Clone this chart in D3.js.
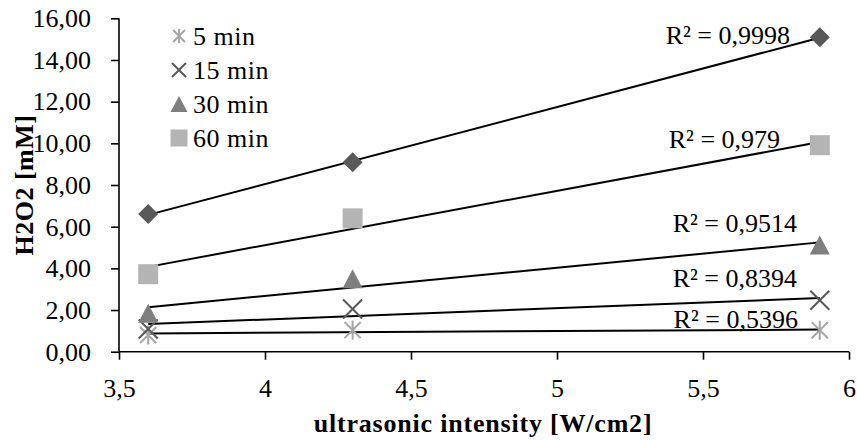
<!DOCTYPE html>
<html>
<head>
<meta charset="utf-8">
<script src="https://cdn.jsdelivr.net/npm/d3@7"></script>
<style>
body{margin:0;background:#fff}
svg text{font-family:"Liberation Serif","Times New Roman",serif}
</style>
</head>
<body>
<svg width="857" height="441"></svg>
<script>
// intensities [W/cm2]
var intensity = [3.6, 4.3, 5.9]
// H2O2 [mM] per sonication time
var series = ['5 min', '15 min', '30 min', '60 min', '120 min']
var v5 = [0.80, 1.04, 1.03]
var v15 = [1.09, 2.05, 2.47]
var v30 = [1.85, 3.50, 5.12]
var v60 = [3.72, 6.40, 9.91]
var v120 = [6.61, 9.09, 15.09]
var r2 = ['0,5396', '0,8394', '0,9514', '0,979', '0,9998']
var xTicks = [3.5, 4, 4.5, 5, 5.5, 6]
var yTicks = [0, 2, 4, 6, 8, 10, 12, 14, 16]

var allVals = [v5, v15, v30, v60, v120]
var legendItems = [0, 1, 2, 3]   // excel legend only shows these
var markers = ['asterisk', 'x', 'triangle', 'square', 'diamond']
var colors = ['#a6a6a6', '#595959', '#7f7f7f', '#b4b4b4', '#595959']
// where excel put the R² boxes (right end, baseline) in data units
var labelAt = [[5.825, 1.14], [5.822, 3.11], [5.822, 5.75], [5.764, 9.78], [5.798, 14.77]]

var loc = d3.formatLocale({decimal: ',', thousands: '.', grouping: [3], currency: ['', '']})

var svg = d3.select('svg')
var x = d3.scaleLinear().domain([3.5, 6]).range([119, 849])
var y = d3.scaleLinear().domain([0, 16]).range([351.7, 18.3])

function markerPath(kind, s) {
    if (kind == 'asterisk') return 'M' + (-s * 0.85) + ',' + (-s * 0.85) + 'L' + (s * 0.85) + ',' + (s * 0.85) +
        'M' + (-s * 0.85) + ',' + (s * 0.85) + 'L' + (s * 0.85) + ',' + (-s * 0.85) + 'M0,' + (-s) + 'V' + s
    if (kind == 'x') return 'M' + (-s) + ',' + (-s) + 'L' + s + ',' + s + 'M' + (-s) + ',' + s + 'L' + s + ',' + (-s)
    if (kind == 'triangle') return 'M0,' + (-s * 0.95) + 'L' + s + ',' + (s * 0.95) + 'L' + (-s) + ',' + (s * 0.95) + 'Z'
    if (kind == 'square') return 'M' + (-s) + ',' + (-s) + 'H' + s + 'V' + s + 'H' + (-s) + 'Z'
    if (kind == 'diamond') return 'M0,' + (-s) + 'L' + s + ',0L0,' + s + 'L' + (-s) + ',0Z'
}
function isStroke(kind) { return kind == 'asterisk' || kind == 'x' }

// axes
var xAxis = svg.append('g')
    .attr('transform', 'translate(0,' + y(0) + ')')
    .call(d3.axisBottom(x).tickValues(xTicks).tickSize(8).tickPadding(19).tickFormat(loc.format('.2~f')))
var yAxis = svg.append('g')
    .attr('transform', 'translate(' + x(3.5) + ',0)')
    .call(d3.axisLeft(y).tickValues(yTicks).tickSize(8).tickPadding(20).tickFormat(loc.format('.2f')))

svg.selectAll('.domain').attr('stroke', '#000').attr('stroke-width', 1.6)
svg.selectAll('.tick line').attr('stroke', '#000').attr('stroke-width', 1.6)
svg.selectAll('.tick text').attr('font-family', 'Liberation Serif').attr('font-size', 26).attr('fill', '#000')
// excel axis path has no end caps
xAxis.select('.domain').attr('d', 'M' + x(3.5) + ',0H' + x(6))
yAxis.select('.domain').attr('d', 'M0,' + y(16) + 'V' + y(0))

// trend lines (least squares)
allVals.forEach(function(vals, i) {
    var mx = d3.mean(intensity), my = d3.mean(vals)
    var sxy = 0, sxx = 0
    for (var k = 0; k < vals.length; k++) {
        sxy += (intensity[k] - mx) * (vals[k] - my)
        sxx += (intensity[k] - mx) * (intensity[k] - mx)
    }
    var b = sxy / sxx, a = my - b * mx
    var x0 = d3.min(intensity), x1 = d3.max(intensity)
    svg.append('line')
        .attr('x1', x(x0)).attr('y1', y(a + b * x0))
        .attr('x2', x(x1)).attr('y2', y(a + b * x1))
        .attr('stroke', '#000').attr('stroke-width', 2)
})

// markers
allVals.forEach(function(vals, i) {
    var kind = markers[i]
    var s = isStroke(kind) ? 9.5 : 10
    svg.append('g').selectAll('path')
        .data(vals)
        .enter()
        .append('path')
        .attr('transform', function(d, k) { return 'translate(' + x(intensity[k]) + ',' + y(d) + ')' })
        .attr('d', markerPath(kind, s))
        .attr('fill', isStroke(kind) ? 'none' : colors[i])
        .attr('stroke', isStroke(kind) ? colors[i] : 'none')
        .attr('stroke-width', 2)
})

// R² labels
r2.forEach(function(r, i) {
    svg.append('text')
        .attr('x', x(labelAt[i][0])).attr('y', y(labelAt[i][1]))
        .attr('text-anchor', 'end')
        .attr('font-size', 26)
        .text('R² = ' + r)
})

// legend
var leg = svg.append('g').selectAll('g')
    .data(legendItems)
    .enter()
    .append('g')
    .attr('transform', function(d, k) { return 'translate(179,' + (36 + k * 34) + ')' })
leg.append('path')
    .attr('d', function(d) { return markerPath(markers[d], isStroke(markers[d]) ? 7 : 8.5) })
    .attr('fill', function(d) { return isStroke(markers[d]) ? 'none' : colors[d] })
    .attr('stroke', function(d) { return isStroke(markers[d]) ? colors[d] : 'none' })
    .attr('stroke-width', 2)
leg.append('text')
    .attr('x', 14).attr('dy', '0.35em')
    .attr('font-size', 26).attr('letter-spacing', 0.5)
    .text(function(d) { return series[d] })

// axis titles
svg.append('text')
    .attr('x', 483).attr('y', 432)
    .attr('text-anchor', 'middle')
    .attr('font-weight', 'bold').attr('font-size', 26).attr('letter-spacing', 0.8)
    .text('ultrasonic intensity [W/cm2]')
svg.append('text')
    .attr('transform', 'translate(33,185) rotate(-90)')
    .attr('text-anchor', 'middle')
    .attr('font-weight', 'bold').attr('font-size', 26).attr('letter-spacing', 0.5)
    .text('H2O2 [mM]')
</script>
</body>
</html>
